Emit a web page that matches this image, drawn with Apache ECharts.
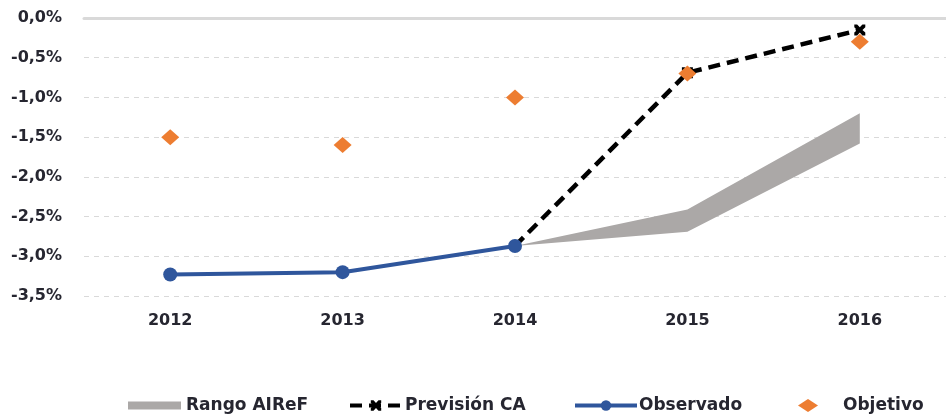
<!DOCTYPE html>
<html>
<head>
<meta charset="utf-8">
<script src="https://cdn.jsdelivr.net/npm/echarts@6/dist/echarts.min.js"></script>
<style>
  html, body { margin: 0; padding: 0; background: #fff; }
  #chart { width: 946px; height: 417px; }
</style>
</head>
<body>
<div id="chart"></div>
<script>
// Years on the horizontal axis
const years = ['2012', '2013', '2014', '2015', '2016'];
// Deficit (% of GDP)
const observado = [-3.23, -3.20, -2.87, null, null];
const prevision = [null, null, -2.87, -0.69, -0.15];
const objetivo = [-1.5, -1.6, -1.0, -0.7, -0.3];
// AIReF range: lower and upper bounds
const rangoBajo = [null, null, -2.87, -2.69, -1.58];
const rangoAlto = [null, null, -2.87, -2.41, -1.20];

// Band thickness, stacked on top of the lower bound
const rangoAncho = rangoAlto.map((v, i) => (v == null || rangoBajo[i] == null) ? null : +(v - rangoBajo[i]).toFixed(4));

const FONT = '"DejaVu Sans", sans-serif';
const TXT = '#262630';
const BLUE = '#2F569C';
const ORANGE = '#ED7D31';
const GREY = '#ABA8A7';
const XMARK = 'path://M0,0 L2.6,0 L5,2.6 L7.4,0 L10,0 L10,2.6 L7.4,5 L10,7.4 L10,10 L7.4,10 L5,7.4 L2.6,10 L0,10 L0,7.4 L2.6,5 L0,2.6Z';

const legendText = { fontFamily: FONT, fontSize: 17, fontWeight: 'bold', color: TXT };

const chart = echarts.init(document.getElementById('chart'), null, { renderer: 'canvas' });
chart.setOption({
  animation: false,
  backgroundColor: '#fff',
  grid: { left: 84, right: 0, top: 18, bottom: 121 },
  xAxis: [
    {
      type: 'category',
      data: years,
      boundaryGap: true,
      axisLine: { show: false, onZero: false },
      axisTick: { show: false },
      axisLabel: { margin: 17, fontFamily: FONT, fontSize: 16, fontWeight: 'bold', color: TXT }
    },
    {
      type: 'category',
      data: years,
      position: 'top',
      axisLine: { show: true, onZero: false, lineStyle: { color: '#D9D9D9', width: 3 } },
      axisTick: { show: false },
      axisLabel: { show: false }
    }
  ],
  yAxis: {
    type: 'value',
    min: -3.5,
    max: 0,
    interval: 0.5,
    axisLine: { show: false },
    axisTick: { show: false },
    splitLine: { lineStyle: { color: '#D9D9D9', type: [5, 5], width: 1 } },
    axisLabel: {
      margin: 22,
      fontFamily: FONT, fontSize: 16, fontWeight: 'bold', color: TXT,
      formatter: v => v.toFixed(1).replace('.', ',') + '%'
    }
  },
  legend: [
    {
      left: 123, top: 392, itemWidth: 53, itemHeight: 8, itemGap: 0,
      textStyle: legendText,
      data: [{ name: 'Rango AIReF', icon: 'rect', itemStyle: { color: GREY } }]
    },
    {
      left: 343, top: 392, itemWidth: 52, itemHeight: 13,
      textStyle: Object.assign({}, legendText, { padding: [0, 0, 0, -2] }),
      data: [{ name: 'Previsión CA', lineStyle: { width: 4 } }]
    },
    {
      left: 568, top: 392, itemWidth: 62, itemHeight: 13,
      textStyle: Object.assign({}, legendText, { padding: [0, 0, 0, -3] }),
      data: [{ name: 'Observado', lineStyle: { width: 4 } }]
    },
    {
      left: 793, top: 392, itemWidth: 20, itemHeight: 13,
      textStyle: Object.assign({}, legendText, { padding: [0, 0, 0, 20] }),
      data: [{ name: 'Objetivo' }]
    }
  ],
  series: [
    {
      name: 'rango-base',
      type: 'line',
      data: rangoBajo,
      stack: 'rango',
      stackStrategy: 'all',
      symbol: 'none',
      lineStyle: { opacity: 0 },
      silent: true,
      z: 1
    },
    {
      name: 'Rango AIReF',
      type: 'line',
      data: rangoAncho,
      stack: 'rango',
      stackStrategy: 'all',
      symbol: 'none',
      itemStyle: { color: GREY },
      lineStyle: { opacity: 0, width: 0 },
      areaStyle: { color: GREY, opacity: 1 },
      z: 1
    },
    {
      name: 'Previsión CA',
      type: 'line',
      data: prevision,
      symbol: XMARK,
      symbolSize: (v, p) => (p.dataIndex === 2 ? 0 : 11),
      itemStyle: { color: '#000' },
      lineStyle: { color: '#000', width: 4.5, type: [12, 7] },
      z: 3
    },
    {
      name: 'Observado',
      type: 'line',
      data: observado,
      symbol: 'circle',
      symbolSize: 14,
      itemStyle: { color: BLUE },
      lineStyle: { color: BLUE, width: 4 },
      z: 4
    },
    {
      name: 'Objetivo',
      type: 'scatter',
      data: objetivo,
      symbol: 'diamond',
      symbolSize: [18, 16],
      itemStyle: { color: ORANGE, opacity: 1 },
      z: 5
    }
  ]
});
</script>
</body>
</html>
